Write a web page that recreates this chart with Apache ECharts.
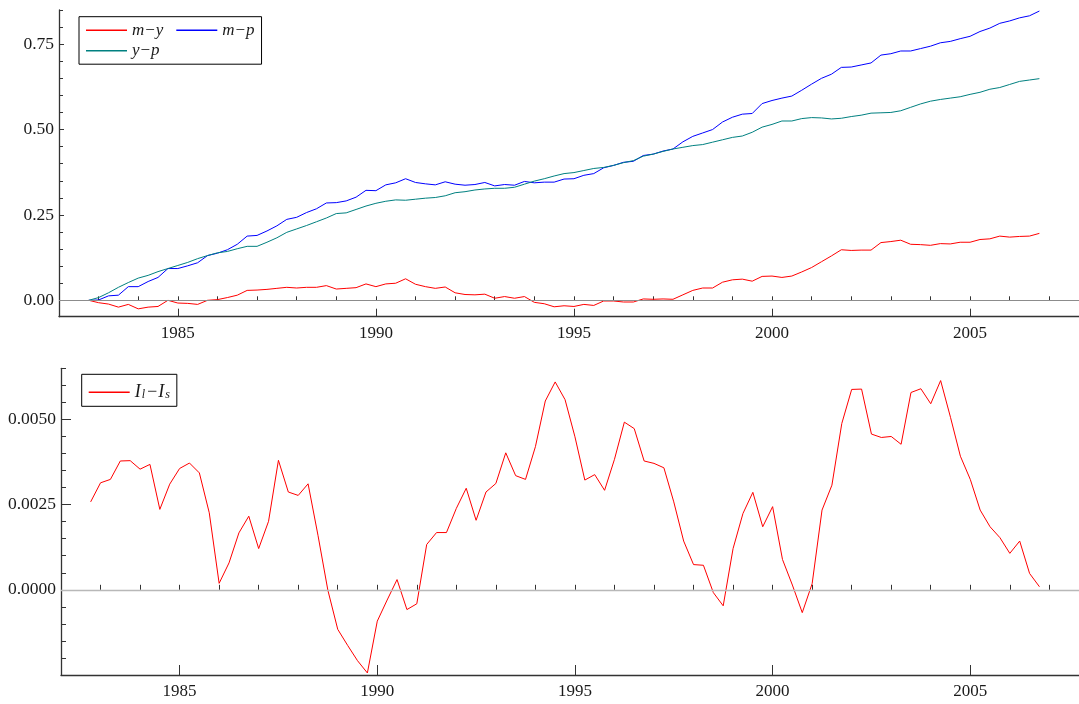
<!DOCTYPE html>
<html>
<head>
<meta charset="utf-8">
<title>Money, output, prices and interest spread</title>
<script src="https://cdn.jsdelivr.net/npm/echarts@6/dist/echarts.min.js"></script>
<style>
  html, body { margin: 0; padding: 0; background: #ffffff; }
  #chart { width: 1079px; height: 704px; }
</style>
</head>
<body>
<div id="chart"></div>
<script>
// Quarterly observations, 1982Q4 – 2006Q4
const firstQuarter = 1982.75;

// Upper panel: log levels relative to the first quarter
const mMinusY = [
  0.000, -0.007, -0.011, -0.020, -0.012, -0.025, -0.020, -0.018, 0.000, -0.008,
  -0.009, -0.012, 0.000, 0.002, 0.008, 0.015, 0.029, 0.030, 0.032, 0.035,
  0.038, 0.036, 0.038, 0.038, 0.043, 0.033, 0.035, 0.037, 0.048, 0.040,
  0.048, 0.050, 0.063, 0.047, 0.040, 0.035, 0.039, 0.022, 0.017, 0.016,
  0.018, 0.006, 0.011, 0.006, 0.011, -0.006, -0.010, -0.019, -0.016, -0.018,
  -0.012, -0.015, -0.002, -0.002, -0.005, -0.005, 0.004, 0.003, 0.004, 0.003,
  0.016, 0.029, 0.036, 0.036, 0.053, 0.060, 0.062, 0.056, 0.070, 0.071,
  0.067, 0.071, 0.083, 0.096, 0.113, 0.130, 0.148, 0.146, 0.147, 0.147,
  0.169, 0.172, 0.176, 0.164, 0.163, 0.161, 0.166, 0.165, 0.170, 0.170,
  0.178, 0.180, 0.188, 0.185, 0.187, 0.188, 0.196
];
const mMinusP = [
  0.000, 0.001, 0.013, 0.015, 0.040, 0.040, 0.055, 0.067, 0.093, 0.093,
  0.101, 0.110, 0.131, 0.138, 0.148, 0.164, 0.188, 0.190, 0.203, 0.218,
  0.237, 0.243, 0.257, 0.268, 0.285, 0.286, 0.291, 0.302, 0.322, 0.321,
  0.338, 0.344, 0.356, 0.345, 0.341, 0.338, 0.347, 0.340, 0.337, 0.339,
  0.345, 0.335, 0.339, 0.337, 0.348, 0.344, 0.346, 0.346, 0.355, 0.356,
  0.366, 0.371, 0.388, 0.395, 0.404, 0.407, 0.424, 0.428, 0.437, 0.443,
  0.464, 0.480, 0.490, 0.500, 0.522, 0.536, 0.545, 0.547, 0.576, 0.585,
  0.592, 0.598, 0.615, 0.633, 0.650, 0.662, 0.682, 0.683, 0.689, 0.695,
  0.718, 0.722, 0.730, 0.730, 0.737, 0.744, 0.754, 0.758, 0.766, 0.773,
  0.787, 0.797, 0.811, 0.818, 0.827, 0.833, 0.847
];
const yMinusP = [
  0.000, 0.008, 0.022, 0.038, 0.052, 0.065, 0.073, 0.084, 0.093, 0.102,
  0.111, 0.122, 0.131, 0.139, 0.143, 0.151, 0.158, 0.158, 0.170, 0.183,
  0.199, 0.209, 0.219, 0.230, 0.241, 0.254, 0.256, 0.266, 0.276, 0.284,
  0.290, 0.294, 0.293, 0.296, 0.299, 0.301, 0.306, 0.315, 0.318, 0.323,
  0.326, 0.328, 0.328, 0.331, 0.340, 0.349, 0.356, 0.364, 0.371, 0.374,
  0.380, 0.386, 0.389, 0.395, 0.403, 0.409, 0.422, 0.428, 0.436, 0.443,
  0.448, 0.453, 0.456, 0.463, 0.470, 0.477, 0.481, 0.492, 0.507, 0.515,
  0.525, 0.525, 0.532, 0.535, 0.534, 0.531, 0.533, 0.538, 0.542, 0.548,
  0.549, 0.550, 0.555, 0.565, 0.575, 0.583, 0.588, 0.592, 0.596, 0.603,
  0.609, 0.618, 0.623, 0.632, 0.641, 0.645, 0.649
];

// Lower panel: long rate minus short rate
const longMinusShort = [
  0.00258, 0.00314, 0.00324, 0.00378, 0.00379, 0.00354, 0.00368, 0.00236, 0.00310, 0.00356,
  0.00372, 0.00343, 0.00226, 0.00019, 0.00079, 0.00167, 0.00216, 0.00121, 0.00201, 0.00380,
  0.00287, 0.00277, 0.00311, 0.00160, -0.00001, -0.00116, -0.00163, -0.00208, -0.00244, -0.00092,
  -0.00030, 0.00030, -0.00058, -0.00041, 0.00133, 0.00168, 0.00168, 0.00239, 0.00298, 0.00204,
  0.00287, 0.00312, 0.00402, 0.00335, 0.00324, 0.00420, 0.00554, 0.00610, 0.00558, 0.00449,
  0.00322, 0.00338, 0.00292, 0.00383, 0.00492, 0.00473, 0.00378, 0.00371, 0.00358, 0.00258,
  0.00143, 0.00074, 0.00072, -0.00008, -0.00047, 0.00121, 0.00224, 0.00286, 0.00185, 0.00244,
  0.00089, 0.00014, -0.00067, 0.00018, 0.00234, 0.00307, 0.00488, 0.00588, 0.00589, 0.00457,
  0.00447, 0.00450, 0.00427, 0.00579, 0.00590, 0.00546, 0.00614, 0.00506, 0.00392, 0.00324,
  0.00234, 0.00185, 0.00153, 0.00107, 0.00143, 0.00048, 0.00009
];

// Axis ticks and labels
const yearLabels = [1985, 1990, 1995, 2000, 2005];
const yearTicks = [1983, 1984, 1985, 1986, 1987, 1988, 1989, 1990, 1991, 1992, 1993, 1994,
  1995, 1996, 1997, 1998, 1999, 2000, 2001, 2002, 2003, 2004, 2005, 2006, 2007];
const topLabels = [0, 0.25, 0.5, 0.75];
const topMinor = [0, 0.05, 0.1, 0.15, 0.2, 0.25, 0.3, 0.35, 0.4, 0.45, 0.5, 0.55, 0.6,
  0.65, 0.7, 0.75, 0.8, 0.85];
const bottomLabels = [0, 0.0025, 0.005];
const bottomMinor = [-0.002, -0.0015, -0.001, -0.0005, 0, 0.0005, 0.001, 0.0015, 0.002,
  0.0025, 0.003, 0.0035, 0.004, 0.0045, 0.005, 0.0055, 0.006, 0.0065];

const quarters = mMinusY.map((_, i) => firstQuarter + i / 4);
const pairs = (vals) => vals.map((v, i) => [quarters[i], v]);

const FONT = 'Liberation Serif';
const TEXT = '#1a1a1a';
const AXIS = '#333333';

function xAxes(grid, majorLen, minorLen) {
  return [
    {
      type: 'value', gridIndex: grid, min: 1982, max: 2007.75, position: 'bottom',
      axisLine: { show: true, onZero: false, lineStyle: { color: AXIS, width: 1.3 } },
      axisTick: { show: true, inside: true, length: majorLen, customValues: yearLabels,
        lineStyle: { color: AXIS, width: 1 } },
      axisLabel: { show: true, customValues: yearLabels, margin: 8,
        fontFamily: FONT, fontSize: 17, color: TEXT, formatter: (v) => String(v) },
      splitLine: { show: false }
    },
    {
      type: 'value', gridIndex: grid, min: 1982, max: 2007.75, position: 'bottom',
      axisLine: { show: false },
      axisTick: { show: true, inside: true, length: minorLen, customValues: yearTicks,
        lineStyle: { color: AXIS, width: 1 } },
      axisLabel: { show: false },
      splitLine: { show: false }
    }
  ];
}

function yAxes(grid, min, max, labels, minor, digits, majorLen, minorLen) {
  return [
    {
      type: 'value', gridIndex: grid, min: min, max: max, position: 'left',
      axisLine: { show: true, onZero: false, lineStyle: { color: AXIS, width: 1.3 } },
      axisTick: { show: true, inside: true, length: majorLen, customValues: labels,
        lineStyle: { color: AXIS, width: 1 } },
      axisLabel: { show: true, customValues: labels, margin: 5,
        fontFamily: FONT, fontSize: 17.5, color: TEXT, formatter: (v) => v.toFixed(digits) },
      splitLine: { show: false }
    },
    {
      type: 'value', gridIndex: grid, min: min, max: max, position: 'left',
      axisLine: { show: false },
      axisTick: { show: true, inside: true, length: minorLen, customValues: minor,
        lineStyle: { color: AXIS, width: 1 } },
      axisLabel: { show: false },
      splitLine: { show: false }
    }
  ];
}

function zeroLine(color, width) {
  return {
    silent: true, symbol: 'none', label: { show: false },
    lineStyle: { color: color, width: width, type: 'solid' },
    emphasis: { disabled: true },
    data: [{ yAxis: 0 }]
  };
}

function lineSeries(name, color, xi, yi, vals, extra) {
  return Object.assign({
    name: name, type: 'line', xAxisIndex: xi, yAxisIndex: yi,
    data: pairs(vals), symbol: 'none', showSymbol: false,
    lineStyle: { color: color, width: 1 }, itemStyle: { color: color },
    emphasis: { disabled: true }, z: 3
  }, extra || {});
}

const legendText = { fontFamily: FONT, fontStyle: 'italic', fontSize: 17, color: TEXT };

const chart = echarts.init(document.getElementById('chart'), null, { renderer: 'canvas' });

chart.setOption({
  animation: false,
  backgroundColor: '#ffffff',
  grid: [
    { left: 59, top: 10, right: 0, height: 306.7 },
    { left: 61, top: 368.3, right: 0, height: 306.7 }
  ],
  xAxis: [...xAxes(0, 8, 4), ...xAxes(1, 10, 5)],
  yAxis: [
    ...yAxes(0, -0.048, 0.85, topLabels, topMinor, 2, 5, 4),
    ...yAxes(1, -0.0025, 0.0065, bottomLabels, bottomMinor, 4, 10, 5)
  ],
  legend: [
    {
      // first row of the upper key; its frame also encloses the second row
      data: ['m−y', 'm−p'],
      left: 79, top: 16.7, orient: 'horizontal',
      itemGap: 13, itemWidth: 41, itemHeight: 1.5, icon: 'rect',
      padding: [5, 7, 25.5, 7],
      borderColor: '#000000', borderWidth: 1, backgroundColor: '#ffffff',
      selectedMode: false, z: 4,
      textStyle: legendText
    },
    {
      data: ['y−p'],
      left: 86, top: 42.2, orient: 'horizontal',
      itemGap: 13, itemWidth: 41, itemHeight: 1.5, icon: 'rect',
      padding: 0,
      selectedMode: false, z: 5,
      textStyle: legendText
    },
    {
      data: ['Il−Is'],
      left: 81.7, top: 374.3,
      itemWidth: 41, itemHeight: 1.5, icon: 'rect',
      padding: [3, 6, 5, 7],
      borderColor: '#000000', borderWidth: 1, backgroundColor: '#ffffff',
      selectedMode: false,
      formatter: () => '{i|I}{s|l}{i|−I}{s|s}',
      textStyle: {
        fontFamily: FONT, color: TEXT,
        rich: {
          i: { fontFamily: FONT, fontStyle: 'italic', fontSize: 18, lineHeight: 18, verticalAlign: 'top', color: TEXT },
          s: { fontFamily: FONT, fontStyle: 'italic', fontSize: 12, lineHeight: 12, padding: [12, 1, 0, 1], verticalAlign: 'bottom', color: TEXT }
        }
      }
    }
  ],
  series: [
    lineSeries('m−y', '#ff0000', 0, 0, mMinusY, { markLine: zeroLine('#8c8c8c', 1) }),
    lineSeries('m−p', '#0000ff', 0, 0, mMinusP),
    lineSeries('y−p', '#008080', 0, 0, yMinusP),
    lineSeries('Il−Is', '#ff0000', 2, 2, longMinusShort, { markLine: zeroLine('#b8b8b8', 1.3) })
  ]
});
</script>
</body>
</html>
